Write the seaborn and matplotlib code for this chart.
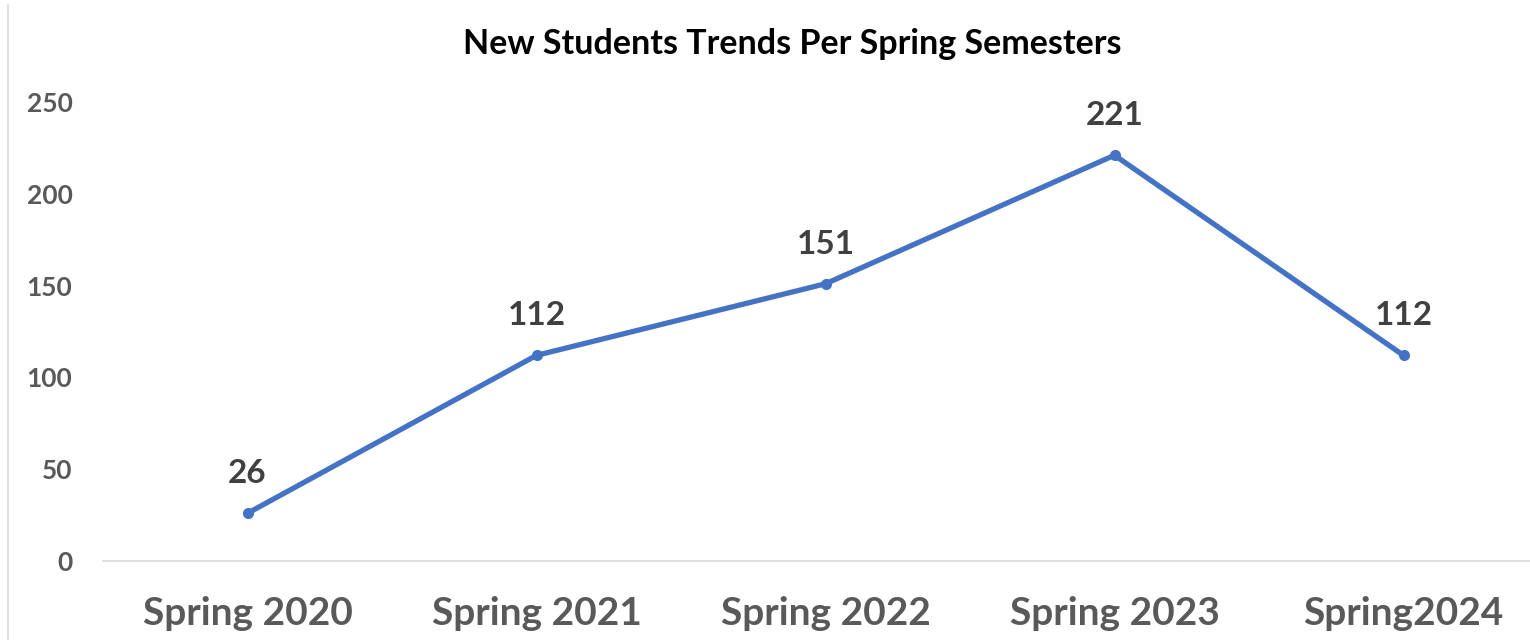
import matplotlib
matplotlib.use("Agg")
import matplotlib.pyplot as plt
import seaborn as sns
import pandas as pd
from matplotlib.lines import Line2D

semesters = ["Spring 2020", "Spring 2021", "Spring 2022", "Spring 2023", "Spring2024"]
new_students = [26, 112, 151, 221, 112]
y_ticks = [0, 50, 100, 150, 200, 250]

sns.set_theme(style="white")
plt.rcParams["font.family"] = ["Lato", "DejaVu Sans"]

df = pd.DataFrame({"semester": semesters, "students": new_students})
df["pos"] = range(len(df))

fig = plt.figure(figsize=(15.3, 6.4), dpi=100)
ax = fig.add_axes([103/1530, 1-561/640, (1548-103)/1530, (561-102)/640])

sns.lineplot(data=df, x="pos", y="students", ax=ax, color="#4472C4",
             linewidth=3.8, marker="o", markersize=8, markeredgewidth=0)

for x, y in zip(df["pos"], df["students"]):
    ax.annotate(str(y), (x, y), xytext=(0, 18), textcoords="offset points",
                ha="center", va="bottom", fontsize=24, fontweight="bold", color="#404040")

ax.set_xlim(-0.5, 4.5)
ax.set_ylim(0, 250)
ax.set_xticks(df["pos"])
ax.set_xticklabels(semesters)
ax.set_yticks(y_ticks)
ax.set_xlabel("")
ax.set_ylabel("")
for lbl in ax.get_xticklabels():
    lbl.set_fontsize(28)
    lbl.set_fontweight("bold")
    lbl.set_color("#595959")
for lbl in ax.get_yticklabels():
    lbl.set_fontsize(19)
    lbl.set_fontweight("bold")
    lbl.set_color("#595959")
ax.tick_params(axis="x", length=0, pad=25)
ax.tick_params(axis="y", length=0, pad=22)
for s in ["top", "right", "left"]:
    ax.spines[s].set_visible(False)
ax.spines["bottom"].set_color("#D9D9D9")
ax.spines["bottom"].set_linewidth(1.2)

fig.text(792/1530, 1-54/640, "New Students Trends Per Spring Semesters",
         ha="center", va="baseline", fontsize=24.5, fontweight="bold", color="black")

fig.add_artist(Line2D([8/1530, 8/1530], [0, 1-5/640], transform=fig.transFigure,
                      color="#D9D9D9", linewidth=1.2))

fig.savefig("out.png", dpi=100)
